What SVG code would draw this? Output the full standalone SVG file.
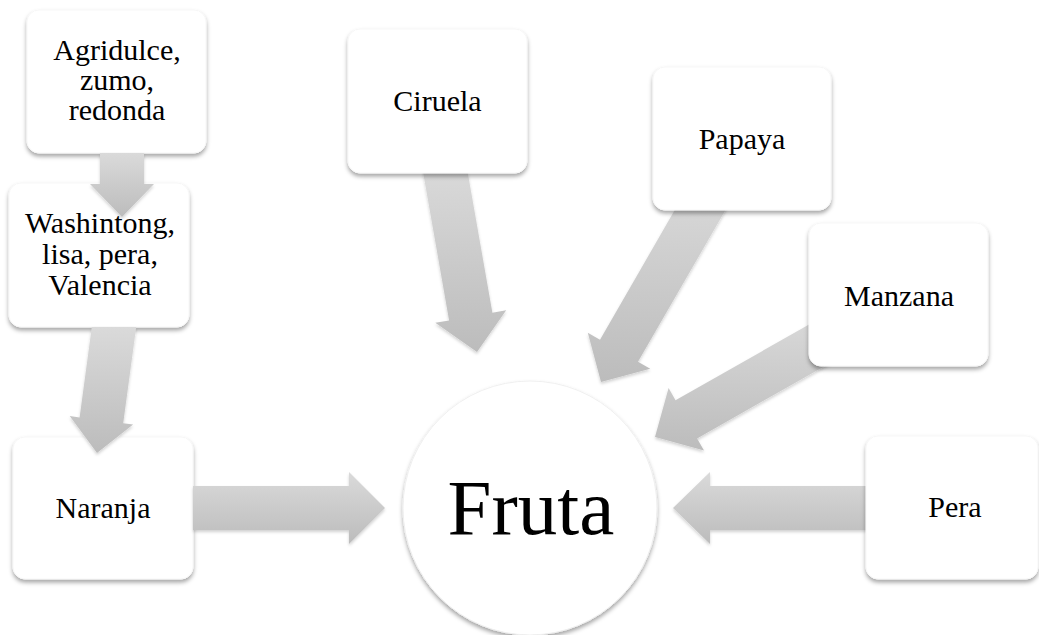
<svg xmlns="http://www.w3.org/2000/svg" width="1039" height="635" viewBox="0 0 1039 635">
<defs>
<filter id="sh" x="-20%" y="-20%" width="140%" height="140%">
<feDropShadow dx="0" dy="3" stdDeviation="2" flood-color="#000" flood-opacity="0.35"/>
</filter>
<filter id="ash" x="-20%" y="-20%" width="140%" height="140%">
<feDropShadow dx="0" dy="2" stdDeviation="1.5" flood-color="#000" flood-opacity="0.18"/>
</filter>
<linearGradient id="ag" x1="0" y1="0" x2="0" y2="1">
<stop offset="0" stop-color="#dadada"/>
<stop offset="1" stop-color="#bcbcbc"/>
</linearGradient>
</defs>
<style>
.box{fill:#fff;stroke:#f7f7f7;stroke-width:1;filter:url(#sh)}
.arr{fill:url(#ag);filter:url(#ash)}
.t{font-family:"Liberation Serif","Times New Roman",serif;font-size:30px;fill:#000;text-anchor:middle}
.big{font-size:79px}
</style>
<rect width="1039" height="635" fill="#fff"/>
<g id="node-agridulce">
<rect class="box" x="27" y="10" width="179" height="143" rx="12"/>
<text class="t" x="117" y="60">Agridulce,</text>
<text class="t" x="117" y="90">zumo,</text>
<text class="t" x="117" y="120">redonda</text>
</g>
<g id="node-washintong">
<rect class="box" x="9" y="183" width="180" height="144" rx="12"/>
<text class="t" x="100" y="233">Washintong,</text>
<text class="t" x="100" y="264">lisa, pera,</text>
<text class="t" x="100" y="295">Valencia</text>
</g>
<g id="node-naranja">
<rect class="box" x="13" y="437" width="180" height="142" rx="12"/>
<text class="t" x="103" y="518">Naranja</text>
</g>
<g id="node-fruta">
<circle cx="530" cy="508" r="127" fill="#fff" stroke="#f0f0f0" stroke-width="1" filter="url(#sh)"/>
<text class="t big" x="531" y="534">Fruta</text>
</g>
<g id="connectors">
<polygon class="arr" points="100,153 100,184 90,184 122,217 154,184 144,184 144,153"/>
<polygon class="arr" points="91.8,327 79.6,417.4 69.7,416 97,453 133.1,424.6 123.2,423.2 136.2,327"/>
<polygon class="arr" points="193,486 349,486 349,472 385,508 349,544 349,530 193,530"/>
<polygon class="arr" points="421.8,165 449.1,320.4 435.3,322.8 477,352 506.2,310.3 492.4,312.7 466.4,165"/>
<polygon class="arr" points="692.3,179.6 600,339.8 587.8,332.8 601,382 650.2,368.8 638,361.8 730.4,201.6"/>
<polygon class="arr" points="832,311.5 675.5,400.2 668.6,388 655,437 704,450.6 697.1,438.4 853.7,349.7"/>
<polygon class="arr" points="875,486 710,486 710,472 673,508 710,544 710,530 875,530"/>
</g>
<g id="node-ciruela">
<rect class="box" x="348" y="29" width="179" height="144" rx="12"/>
<text class="t" x="437.5" y="111">Ciruela</text>
</g>
<g id="node-papaya">
<rect class="box" x="653" y="67" width="178" height="143" rx="12"/>
<text class="t" x="742" y="149">Papaya</text>
</g>
<g id="node-manzana">
<rect class="box" x="809" y="223" width="179" height="143" rx="12"/>
<text class="t" x="899" y="306">Manzana</text>
</g>
<g id="node-pera">
<rect class="box" x="866" y="436" width="172" height="143" rx="12"/>
<text class="t" x="955" y="517">Pera</text>
</g>
</svg>
